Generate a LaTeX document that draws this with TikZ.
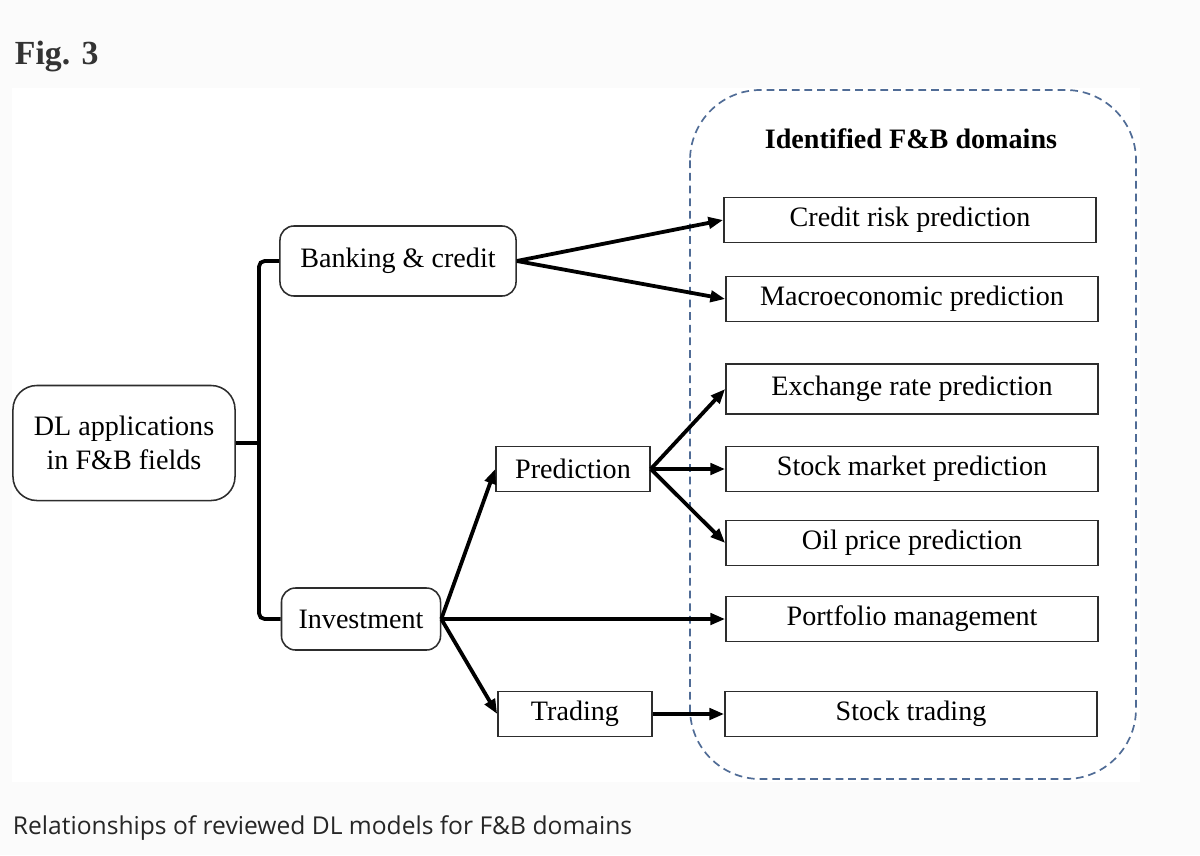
\documentclass[tikz,border=0pt]{standalone}
\usepackage{fontspec}
\setmainfont{Liberation Serif}
\newfontfamily\capfont{Open Sans}
\usepackage{xcolor}
\usetikzlibrary{arrows.meta}
\definecolor{framecol}{RGB}{80,108,150}
\definecolor{boxline}{RGB}{45,45,45}

\begin{document}
\begin{tikzpicture}[x=0.025cm,y=-0.025cm,
    font=\fontsize{20}{24}\selectfont,
    rbox/.style={draw=boxline,line width=1.1pt,rounded corners=10pt,align=center,inner sep=0pt},
    sbox/.style={draw=boxline,line width=1.1pt,inner sep=0pt,minimum width=3.85cm,minimum height=1.12cm},
    dbox/.style={draw=boxline,line width=1.1pt,inner sep=0pt,minimum width=9.3cm,minimum height=1.13cm},
    link/.style={line width=2.7pt,black},
    arr/.style={link,-{Triangle[length=10.5pt,width=8pt]}}]
  % page and figure background
  \fill[gray!3] (0,0) rectangle (1200,855);
  \fill[white] (12,88) rectangle (1140,782);
  \node[anchor=west,text=black!80,font=\fontsize{24}{28}\selectfont\bfseries] (fig) at (10,57) {Fig. 3};
  \node[anchor=west,text=black!85,font=\capfont\fontsize{17.5}{20}\selectfont] (cap) at (8,828) {Relationships of reviewed DL models for F\&B domains};

  % domain frame
  \draw[framecol,line width=1.2pt,dash pattern=on 5.5pt off 3.5pt,rounded corners=50pt] (690,90) rectangle (1136,779);
  \node[font=\fontsize{20}{24}\selectfont\bfseries] (title) at (911,139) {Identified F\&B domains};

  % left side
  \node[rbox,rounded corners=17pt,minimum width=5.55cm,minimum height=2.875cm] (main) at (124,443) {DL applications\\in F\&B fields};
  \node[rbox,minimum width=5.9cm,minimum height=1.75cm] (bank) at (398,261) {Banking \& credit};
  \node[rbox,minimum width=3.975cm,minimum height=1.55cm] (inv) at (361,619) {Investment};
  \node[sbox] (pred) at (573,469) {Prediction};
  \node[sbox] (trade) at (575,714) {Trading};

  % domains
  \node[dbox] (credit) at (910,220) {Credit risk prediction};
  \node[dbox] (macro) at (912,299) {Macroeconomic prediction};
  \node[dbox,minimum height=1.25cm] (exch) at (912,389) {Exchange rate prediction};
  \node[dbox] (stock) at (912,469) {Stock market prediction};
  \node[dbox] (oil) at (912,543) {Oil price prediction};
  \node[dbox] (port) at (912,619) {Portfolio management};
  \node[dbox] (strade) at (911,714) {Stock trading};

  % bracket
  \coordinate (brk) at (259,443);
  \draw[link,rounded corners=4pt] (bank.west) -| (brk) |- (inv.west);
  \draw[link] (main.east) -- (brk);

  % arrows
  \draw[arr] (bank.east) -- (credit.west);
  \draw[arr] (bank.east) -- (macro.west);
  \draw[arr] (inv.east) -- (pred.west);
  \draw[arr] (inv.east) -- (port.west);
  \draw[arr] (inv.east) -- (trade.west);
  \draw[arr] (pred.east) -- (exch.west);
  \draw[arr] (pred.east) -- (stock.west);
  \draw[arr] (pred.east) -- (oil.west);
  \draw[arr] (trade.east) -- (strade.west);
\end{tikzpicture}
\end{document}
